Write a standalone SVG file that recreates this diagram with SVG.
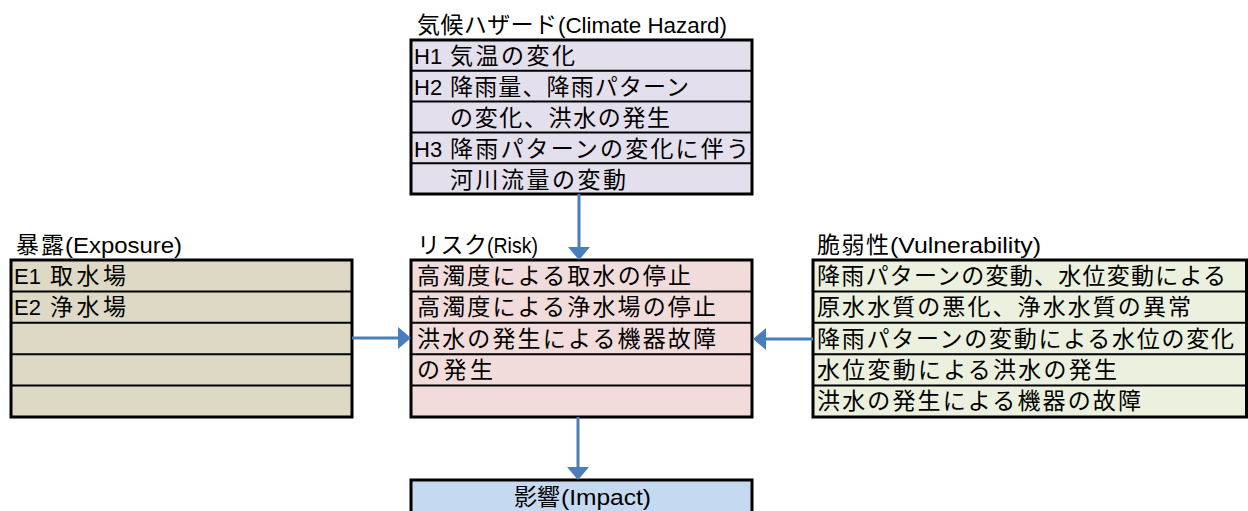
<svg xmlns="http://www.w3.org/2000/svg" width="1248" height="511" viewBox="0 0 1248 511">
<defs>
<style>
.box{stroke:#000;stroke-width:3}
.div{stroke:#000;stroke-width:2}
.t{font-family:"Noto Sans CJK JP","Liberation Sans",sans-serif;font-size:23px;fill:#000}
.lat{font-family:"Liberation Sans",sans-serif;font-size:22px;fill:#000}
.conn{stroke:#4A7EBB;stroke-width:3;fill:none;marker-end:url(#ah)}
</style>
<marker id="ah" markerUnits="userSpaceOnUse" markerWidth="14" markerHeight="24" refX="3" refY="12" orient="auto">
<path d="M0,1 L13,12 L0,23 Z" fill="#4A7EBB"/>
</marker>
</defs>
<rect width="1248" height="511" fill="#fff"/>

<g id="hazard">
<text class="t" x="417" y="33" textLength="140" lengthAdjust="spacing">気候ハザード</text>
<text class="lat" x="558" y="33" textLength="169" lengthAdjust="spacingAndGlyphs">(Climate Hazard)</text>
<rect class="box" x="411" y="40" width="341" height="154" fill="#E4DFEC"/>
<line class="div" x1="411" y1="70.8" x2="752" y2="70.8"/>
<line class="div" x1="411" y1="101.6" x2="752" y2="101.6"/>
<line class="div" x1="411" y1="132.4" x2="752" y2="132.4"/>
<line class="div" x1="411" y1="163.2" x2="752" y2="163.2"/>
<text class="lat" x="414" y="64">H1</text>
<text class="t" x="450" y="64" textLength="125" lengthAdjust="spacing">気温の変化</text>
<text class="lat" x="414" y="95">H2</text>
<text class="t" x="450" y="95" textLength="239" lengthAdjust="spacing">降雨量、降雨パターン</text>
<text class="t" x="450" y="126" textLength="220" lengthAdjust="spacing">の変化、洪水の発生</text>
<text class="lat" x="414" y="157">H3</text>
<text class="t" x="450" y="157" textLength="299" lengthAdjust="spacing">降雨パターンの変化に伴う</text>
<text class="t" x="450" y="188" textLength="176" lengthAdjust="spacing">河川流量の変動</text>
</g>

<g id="exposure">
<text class="t" x="16" y="253" textLength="48" lengthAdjust="spacing">暴露</text>
<text class="lat" x="65" y="253" textLength="117" lengthAdjust="spacingAndGlyphs">(Exposure)</text>
<rect class="box" x="11" y="260" width="341" height="157" fill="#DDD9C4"/>
<line class="div" x1="11" y1="291.4" x2="352" y2="291.4"/>
<line class="div" x1="11" y1="322.8" x2="352" y2="322.8"/>
<line class="div" x1="11" y1="354.2" x2="352" y2="354.2"/>
<line class="div" x1="11" y1="385.6" x2="352" y2="385.6"/>
<text class="lat" x="14" y="284">E1</text>
<text class="t" x="50" y="284" textLength="76" lengthAdjust="spacing">取水場</text>
<text class="lat" x="14" y="315">E2</text>
<text class="t" x="50" y="315" textLength="76" lengthAdjust="spacing">浄水場</text>
</g>

<g id="risk">
<text class="t" x="417" y="253" textLength="70" lengthAdjust="spacing">リスク</text>
<text class="lat" x="487" y="253" textLength="51" lengthAdjust="spacingAndGlyphs">(Risk)</text>
<rect class="box" x="411" y="260" width="341" height="157" fill="#F2DCDB"/>
<line class="div" x1="411" y1="291.4" x2="752" y2="291.4"/>
<line class="div" x1="411" y1="322.8" x2="752" y2="322.8"/>
<line class="div" x1="411" y1="354.2" x2="752" y2="354.2"/>
<line class="div" x1="411" y1="385.6" x2="752" y2="385.6"/>
<text class="t" x="417" y="284" textLength="274" lengthAdjust="spacing">高濁度による取水の停止</text>
<text class="t" x="417" y="315" textLength="299" lengthAdjust="spacing">高濁度による浄水場の停止</text>
<text class="t" x="417" y="347" textLength="299" lengthAdjust="spacing">洪水の発生による機器故障</text>
<text class="t" x="417" y="378" textLength="76" lengthAdjust="spacing">の発生</text>
</g>

<g id="vulnerability">
<text class="t" x="817" y="253" textLength="72" lengthAdjust="spacing">脆弱性</text>
<text class="lat" x="890" y="253" textLength="151" lengthAdjust="spacingAndGlyphs">(Vulnerability)</text>
<rect class="box" x="813" y="260" width="433.5" height="157" fill="#EBF1DE"/>
<line class="div" x1="813" y1="291.4" x2="1246.5" y2="291.4"/>
<line class="div" x1="813" y1="322.8" x2="1246.5" y2="322.8"/>
<line class="div" x1="813" y1="354.2" x2="1246.5" y2="354.2"/>
<line class="div" x1="813" y1="385.6" x2="1246.5" y2="385.6"/>
<text class="t" x="817" y="284" textLength="409" lengthAdjust="spacing">降雨パターンの変動、水位変動による</text>
<text class="t" x="817" y="315" textLength="374" lengthAdjust="spacing">原水水質の悪化、浄水水質の異常</text>
<text class="t" x="817" y="347" textLength="417" lengthAdjust="spacing">降雨パターンの変動による水位の変化</text>
<text class="t" x="817" y="378" textLength="300" lengthAdjust="spacing">水位変動による洪水の発生</text>
<text class="t" x="817" y="409" textLength="324" lengthAdjust="spacing">洪水の発生による機器の故障</text>
</g>

<g id="impact">
<rect class="box" x="411" y="480" width="341" height="50" fill="#C5D9F1"/>
<text class="t" x="514" y="505">影響</text>
<text class="lat" x="561" y="505" textLength="90" lengthAdjust="spacingAndGlyphs">(Impact)</text>
</g>

<g id="connectors">
<line class="conn" x1="579" y1="194" x2="579" y2="250"/>
<line class="conn" x1="352" y1="338" x2="401" y2="338"/>
<line class="conn" x1="813" y1="339" x2="763" y2="339"/>
<line class="conn" x1="578" y1="417" x2="578" y2="470"/>
</g>
</svg>
